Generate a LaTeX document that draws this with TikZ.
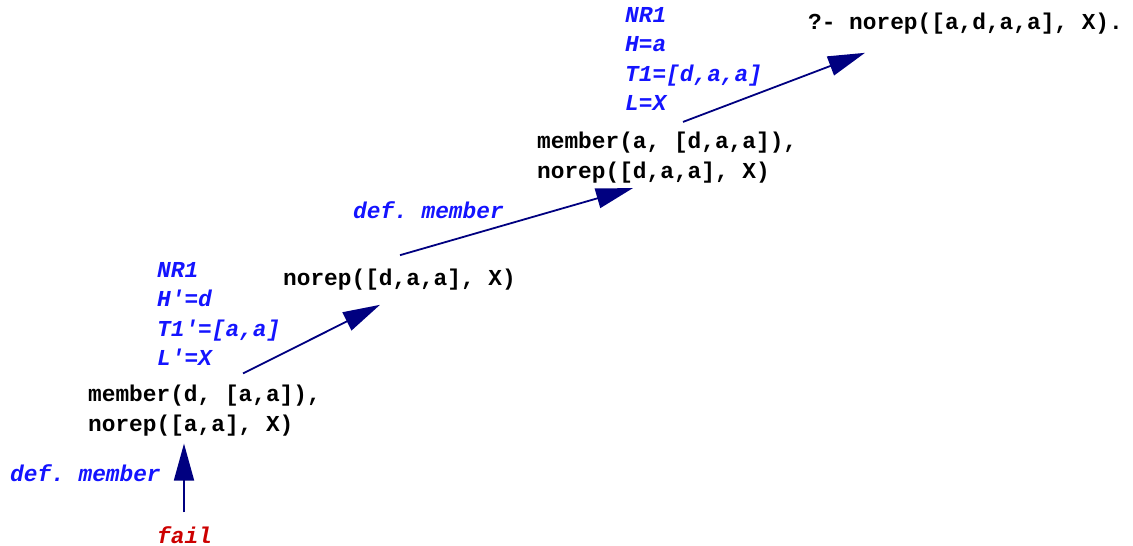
\documentclass[tikz,border=0pt]{standalone}
\usepackage{fontspec}
\setmonofont{Liberation Mono}
\usetikzlibrary{arrows.meta}
\definecolor{stepnavy}{RGB}{0,0,128}
\definecolor{bindblue}{RGB}{20,20,255}
\definecolor{failred}{RGB}{204,0,0}
\newcommand\goalfont{\fontsize{22.8}{29.5}\selectfont\ttfamily\bfseries}
\tikzset{
  goal/.style={anchor=west,inner sep=0pt,align=left,font=\goalfont},
  bind/.style={goal,text=bindblue,font=\goalfont\itshape},
  failed/.style={goal,text=failred,font=\goalfont\itshape},
  reduce/.style={draw=stepnavy,line width=1.8pt,-{Triangle[length=37pt,width=20pt]}}
}
\begin{document}
\begin{tikzpicture}[x=1pt,y=-1pt]
        \useasboundingbox (0,0) rectangle (1133,546);
        %% goals
        \node[goal] (q) at (808,24) {?- norep([a,d,a,a], X).};
        \node[goal] (m2) at (537,157.5) {member(a, [d,a,a]),\\norep([d,a,a], X)};
        \node[goal] (n1) at (283,280) {norep([d,a,a], X)};
        \node[goal] (m1) at (88,410.5) {member(d, [a,a]),\\norep([a,a], X)};
        \node[failed] (f) at (157,535) {fail};
        %% bindings
        \node[bind] (b2) at (625,59) {NR1\\H=a\\T1=[d,a,a]\\L=X};
        \node[bind] (d2) at (353,210) {def. member};
        \node[bind] (b1) at (157,314) {NR1\\H'=d\\T1'=[a,a]\\L'=X};
        \node[bind] (d1) at (10,473) {def. member};
        %% steps
        \draw[reduce] ([shift={(146,-10)}]m2.north west) -- ([shift={(57,18)}]q.south west);
        \draw[reduce] ([shift={(117,-14)}]n1.north west) -- ([shift={(96,5)}]m2.south west);
        \draw[reduce] ([shift={(155,-11.5)}]m1.north west) -- ([shift={(97,14)}]n1.south west);
        \draw[reduce] ([shift={(27,-14)}]f.north west) -- ([shift={(96,7.5)}]m1.south west);
\end{tikzpicture}
\end{document}
